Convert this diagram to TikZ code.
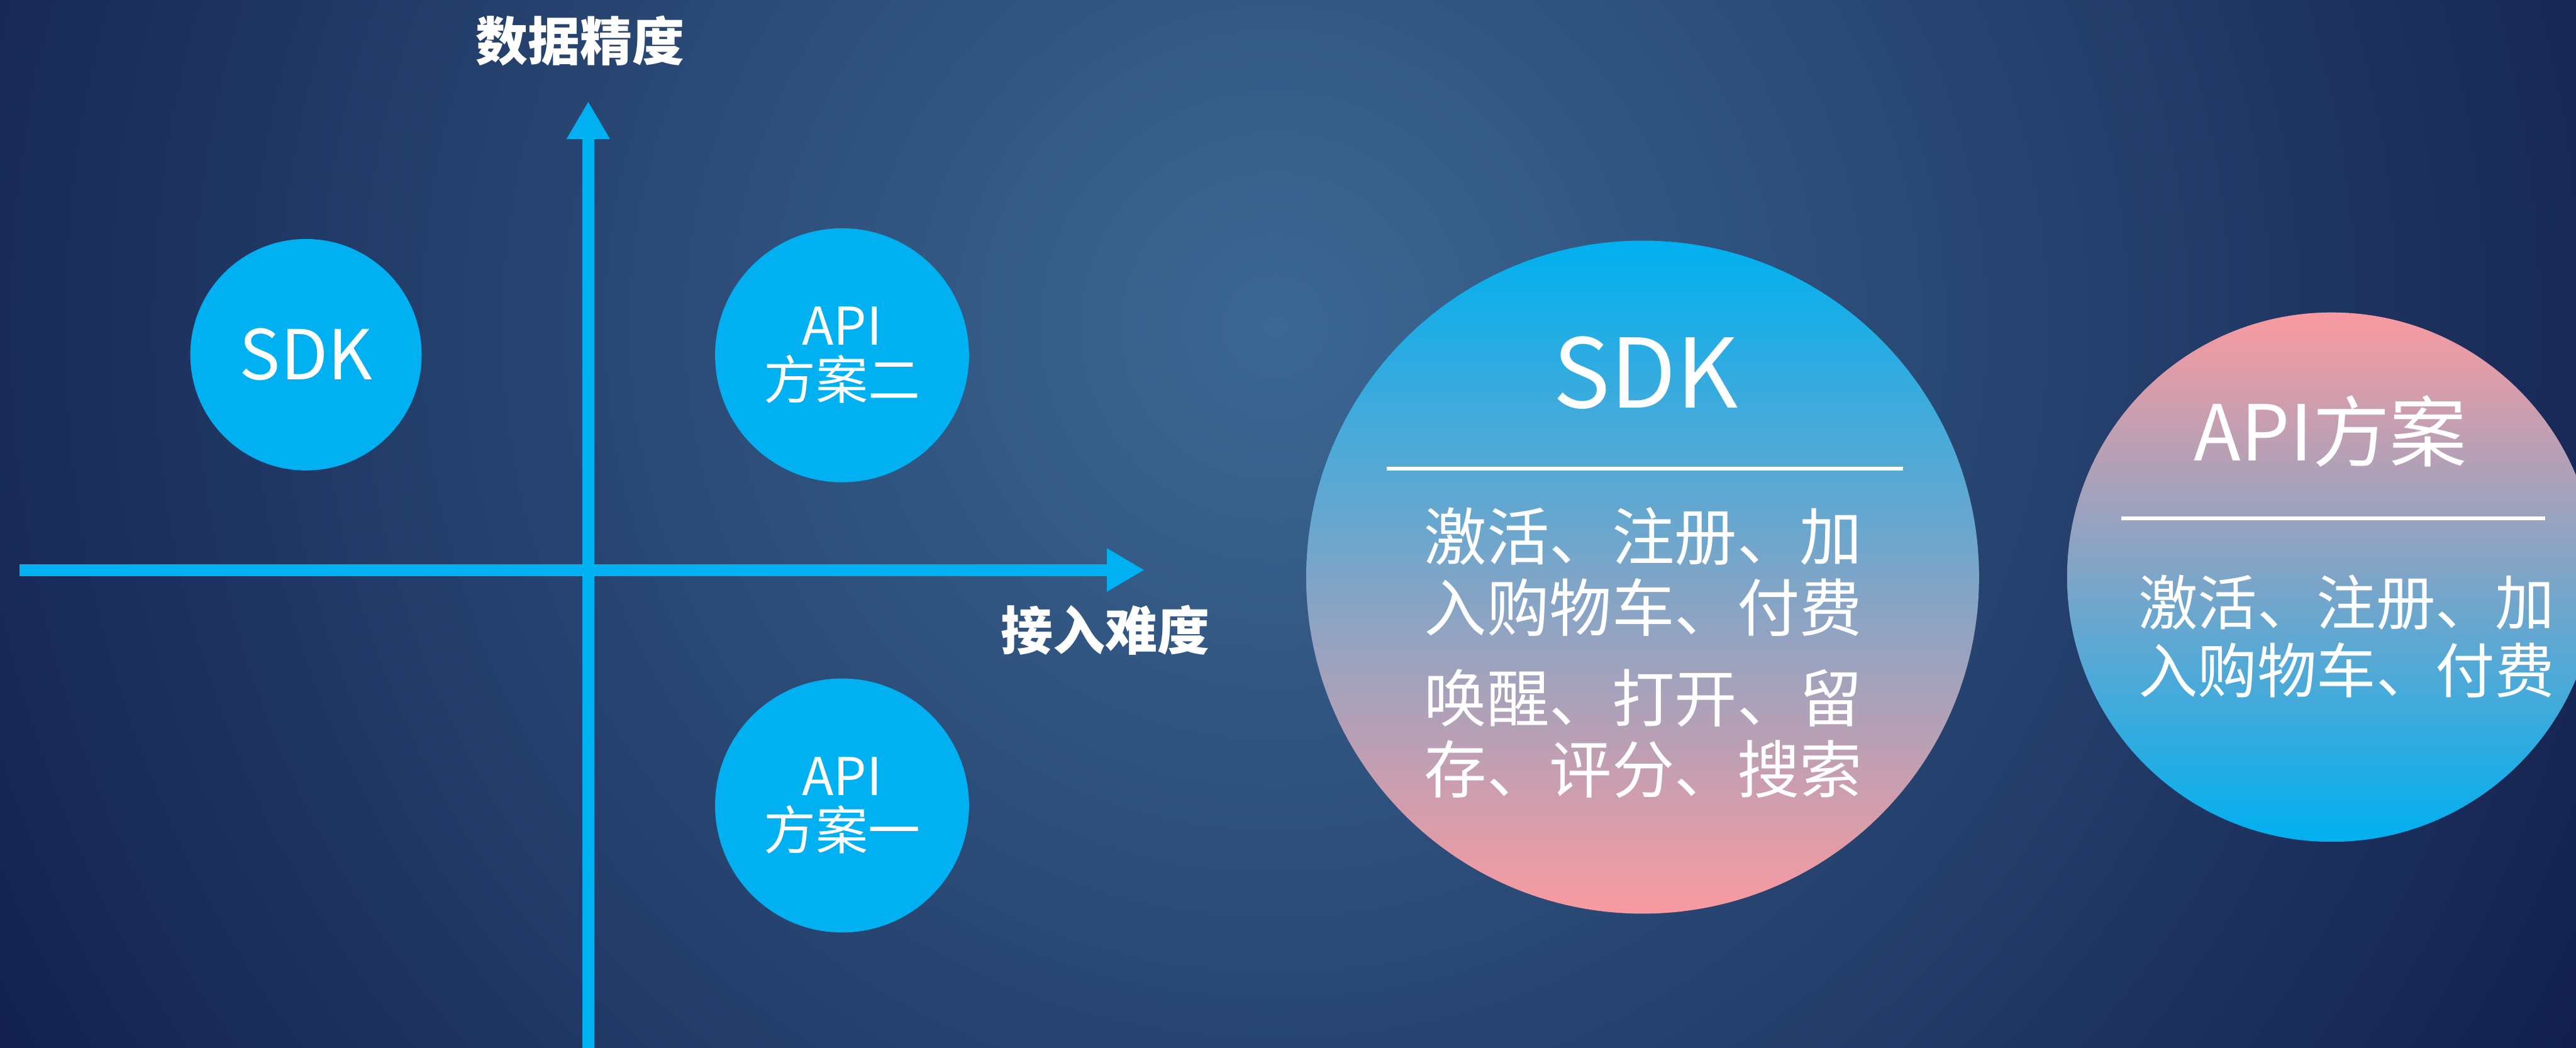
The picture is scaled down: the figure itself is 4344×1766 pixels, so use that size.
\documentclass[tikz,border=0pt]{standalone}
\usepackage{fontspec}
\setmainfont{Noto Sans CJK SC}
\usetikzlibrary{arrows.meta}
\definecolor{cyanc}{HTML}{00B0F0}
\definecolor{pinkc}{HTML}{FA9AA0}
\definecolor{bgin}{HTML}{3C6893}
\definecolor{bgout}{HTML}{111D4B}
\tikzset{
  axisline/.style={draw=cyanc, line width=5.7pt, -{Triangle[length=18pt,width=19.5pt]}},
  axislabel/.style={text=white, inner sep=0pt, font=\bfseries\fontsize{25pt}{30pt}\selectfont},
  smallbub/.style={circle, fill=cyanc, draw=none, inner sep=0pt, text=white, align=center},
  bigbub/.style={circle, draw=none, inner sep=0pt},
  whitetext/.style={text=white, inner sep=0pt, align=center},
  rule/.style={draw=white, line width=1.7pt},
}
\begin{document}
\begin{tikzpicture}[x=0.01cm,y=-0.01cm]
\useasboundingbox (0,0) rectangle (4344,1766);
\clip (0,0) rectangle (4344,1766);
% background
\shade[inner color=bgin, outer color=bgout] (2150,550) circle (26cm);

% axes
\coordinate (yb) at (992,1780);
\coordinate (yt) at (992,171);
\coordinate (xl) at (33,961);
\coordinate (xr) at (1930,961);
\draw[axisline] (xl) -- (xr);
\draw[axisline] (yb) -- (yt);
\node[axislabel] (ylab) at (978,69) {数据精度};
\node[axislabel] (xlab) at (1864,1062) {接入难度};

% small bubbles
\node[smallbub, minimum size=3.9cm, font=\fontsize{33pt}{36pt}\selectfont] (sdk) at (516,598) {SDK};
\node[smallbub, minimum size=4.28cm, font=\fontsize{25pt}{26pt}\selectfont] (api2) at (1420,599) {API\\方案二};
\node[smallbub, minimum size=4.28cm, font=\fontsize{25pt}{26pt}\selectfont] (api1) at (1420,1358) {API\\方案一};

% big SDK bubble
\node[bigbub, minimum size=11.34cm, top color=cyanc, bottom color=pinkc] (bigsdk) at (2770,973) {};
\node[whitetext, font=\fontsize{46pt}{50pt}\selectfont] (bigsdkt) at (2775,628) {SDK};
\draw[rule] (2338,790) -- (3209,790);
\node[whitetext, font=\fontsize{30pt}{34.1pt}\selectfont] (sdkp1) at (2771,964) {激活、注册、加\\入购物车、付费};
\node[whitetext, font=\fontsize{30pt}{34.1pt}\selectfont] (sdkp2) at (2771,1237) {唤醒、打开、留\\存、评分、搜索};

% big API bubble
\node[bigbub, minimum size=8.92cm, top color=pinkc, bottom color=cyanc] (bigapi) at (3932,973) {};
\node[whitetext, font=\fontsize{37pt}{40pt}\selectfont] (bigapit) at (3930,727) {API方案};
\draw[rule] (3577,874) -- (4292,874);
\node[whitetext, font=\fontsize{28.5pt}{32.7pt}\selectfont] (apip) at (3957,1073) {激活、注册、加\\入购物车、付费};
\end{tikzpicture}
\end{document}
